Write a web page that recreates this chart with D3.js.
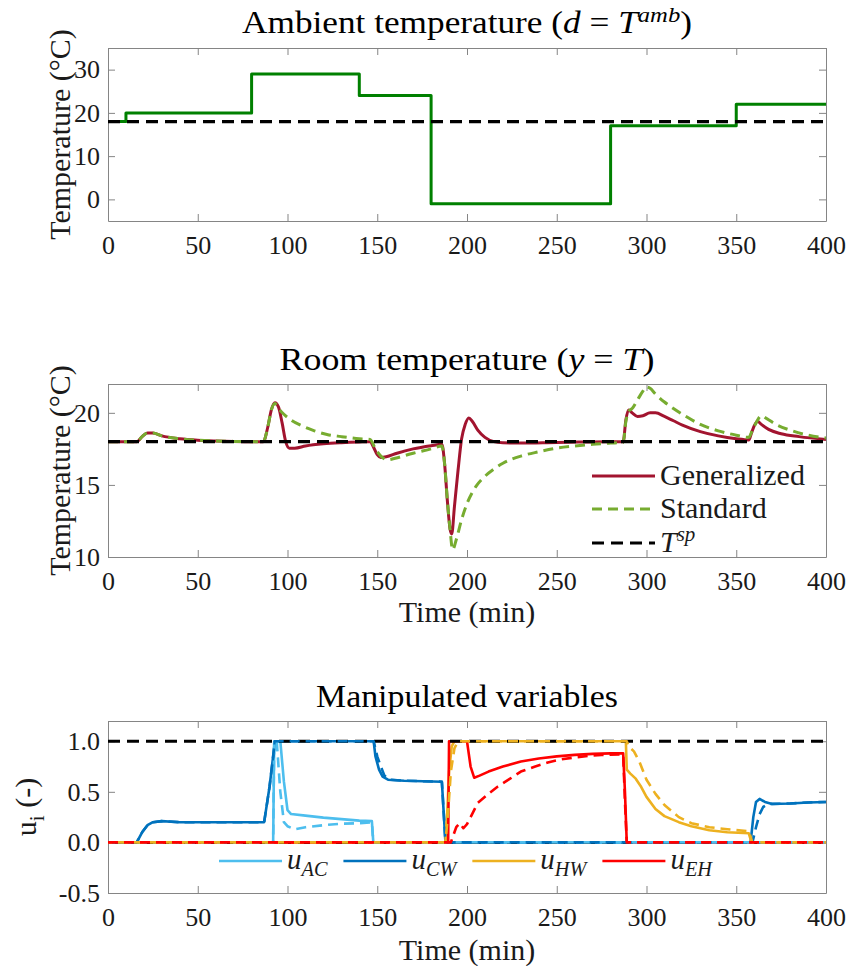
<!DOCTYPE html>
<html><head><meta charset="utf-8">
<script src="https://cdn.jsdelivr.net/npm/d3@7"></script>
<style>
body{margin:0;background:#fff}
svg{display:block}
</style>
</head><body>
<svg id="c" width="850" height="966" font-family="'Liberation Serif', Tinos, 'Times New Roman', 'DejaVu Serif', serif"></svg>
<script>
// ---------------- data ----------------
const timeTicks = [0,50,100,150,200,250,300,350,400];
const ambientTicks = [0,10,20,30];
const roomTicks = [10,15,20];
const uTicks = [-0.5,0,0.5,1];

const ambientSteps = [[0,18],[10,20],[80,29],[140,24],[180,-1],[280,17],[350,22],[400,22]];
const setpointTemp = 18;
const uLower = 0, uUpper = 1;

const roomGeneralized = [[0,18],[16,18],[19,18.35],[22,18.6],[25,18.6],[30,18.4],[40,18.2],[50,18.1],[60,18.05],[70,18.02],[86.5,18],[89,19],[91,20.2],[93,20.7],[95,20.4],[97,19.3],[99,18],[101,17.55],[104,17.55],[110,17.7],[120,17.85],[130,17.93],[140,17.98],[146,18],[148,17.6],[150,17.1],[152,16.9],[155,16.95],[161,17.2],[170,17.5],[180,17.72],[186,17.82],[187.5,16.5],[189,14],[190.5,12],[191.5,11.6],[193,13.5],[195,16],[197,18.2],[199,19.2],[201,19.65],[203,19.4],[206,18.8],[210,18.3],[215,18],[220,17.92],[230,17.9],[250,17.95],[270,17.98],[287,18],[288.5,19.5],[290,20.2],[292,20],[295,19.75],[298,19.8],[302,20],[305,20],[310,19.75],[315,19.45],[320,19.15],[330,18.7],[340,18.4],[350,18.2],[357,18.12],[358.5,18.6],[360,19.1],[362,19.4],[364,19.2],[368,18.85],[375,18.55],[385,18.35],[400,18.15]];
const roomStandard = [[0,18],[16,18],[19,18.35],[22,18.6],[25,18.6],[30,18.4],[40,18.2],[50,18.1],[60,18.05],[70,18.02],[86.5,18],[89,19],[91,20.2],[93,20.65],[95,20.3],[98,19.9],[102,19.5],[108,19.1],[115,18.75],[122,18.5],[130,18.35],[140,18.2],[146,18.15],[149,17.5],[152,17],[156,16.75],[160,16.85],[170,17.2],[180,17.5],[186,17.7],[187.5,16.5],[189,14],[190.5,12],[192,10.5],[194,11.2],[197,12.6],[200,13.7],[205,14.9],[210,15.6],[215,16.1],[220,16.5],[230,17],[240,17.3],[250,17.55],[260,17.7],[270,17.82],[280,17.9],[287,17.95],[288.5,19.4],[290,20.1],[292,20.3],[295,20.9],[298,21.5],[300,21.8],[302,21.7],[305,21.3],[310,20.75],[315,20.3],[320,19.9],[330,19.2],[340,18.75],[350,18.45],[357,18.3],[359,18.8],[361,19.3],[364,19.8],[367,19.6],[372,19.2],[380,18.8],[390,18.45],[400,18.25]];

const uACGen = [[0,0],[92,0],[92.6,1],[96,1],[98,0.6],[100,0.32],[102,0.28],[110,0.265],[120,0.245],[130,0.23],[140,0.215],[147,0.21],[147.8,0],[400,0]];
const uACStd = [[0,0],[92,0],[92.6,1],[94,1],[96,0.5],[98,0.2],[100,0.16],[104,0.13],[110,0.15],[120,0.17],[130,0.185],[140,0.19],[147,0.2],[147.8,0],[400,0]];
const uCWGen = [[0,0],[16,0],[19,0.1],[22,0.17],[25,0.2],[30,0.21],[40,0.2],[87,0.2],[90,0.55],[93,1],[148,1],[149,0.85],[151,0.72],[153,0.65],[156,0.62],[165,0.61],[186,0.6],[187,0.3],[188,0],[358,0],[359.5,0.25],[361,0.4],[363,0.43],[366,0.4],[370,0.38],[380,0.385],[390,0.395],[400,0.4]];
const uCWStd = [[0,0],[16,0],[19,0.1],[22,0.17],[25,0.2],[30,0.21],[40,0.2],[87,0.2],[90,0.55],[93,1],[148,1],[150,0.85],[152,0.75],[154,0.66],[157,0.62],[165,0.61],[186,0.6],[187,0.3],[188,0],[359,0],[361,0.15],[363,0.28],[365,0.35],[368,0.38],[380,0.385],[390,0.395],[400,0.4]];
const uHWGen = [[0,0],[188,0],[189,0.3],[190,0.7],[191.5,0.95],[193,1],[288.5,1],[289,0.72],[291,0.68],[294,0.63],[297,0.55],[300,0.45],[305,0.33],[310,0.26],[318,0.2],[325,0.16],[335,0.12],[345,0.1],[357,0.09],[358.5,0],[400,0]];
const uHWStd = [[0,0],[188,0],[189.5,0.3],[191,0.7],[193,0.93],[195,1],[289,1],[290,0.95],[293,0.9],[296,0.8],[300,0.62],[305,0.48],[310,0.37],[318,0.25],[325,0.19],[335,0.15],[345,0.13],[357,0.11],[359,0],[400,0]];
const uEHGen = [[0,0],[189.5,0],[190,1],[200,1],[202,0.75],[204,0.64],[207,0.66],[212,0.7],[220,0.75],[230,0.8],[240,0.83],[250,0.85],[260,0.865],[270,0.875],[280,0.88],[287,0.88],[288,0.5],[289,0],[400,0]];
const uEHStd = [[0,0],[191,0],[192,0.05],[194,0.15],[196,0.19],[198,0.14],[200,0.18],[206,0.39],[212,0.48],[217,0.55],[224,0.63],[230,0.7],[238,0.75],[245,0.79],[252,0.82],[260,0.84],[268,0.855],[275,0.865],[287,0.87],[288,0.4],[289,0],[400,0]];

const uNames = ["AC","CW","HW","EH"];
const uColors = ["#4DBEEE","#0072BD","#EDB120","#FF0000"];

// ---------------- layout ----------------
const FONT = "'Liberation Serif', Tinos, 'Times New Roman', 'DejaVu Serif', serif";
const svg = d3.select("#c");
const L = 108, R = 826, CX = (L+R)/2;
const x = d3.scaleLinear().domain([0,400]).range([L,R]);
const AX = "#858585", TXT = "#1a1a1a";
const NB = "\u00a0";

function rich(textSel, segs, size){
  let shift = 0;
  segs.forEach(s=>{
    const ts = textSel.append("tspan").text(s.t);
    if (s.i) ts.attr("font-style","italic");
    const target = s.sup ? -0.36*size : (s.sub ? 0.25*size : 0);
    if (target !== shift){ ts.attr("dy", target-shift); shift = target; }
    if (s.sup || s.sub) ts.attr("font-size", size*0.7);
  });
}

function title(segs, baseY, width){
  const g = svg.append("g");
  const t = g.append("text").attr("text-anchor","middle").attr("font-size",31)
    .attr("font-family",FONT).attr("fill","#000");
  rich(t, segs, 31);
  const w = t.node().getComputedTextLength();
  g.attr("transform", `translate(${CX},${baseY}) scale(${width/w},1)`);
}

function panel(top, bottom, domain, ticks, fmt, id){
  const y = d3.scaleLinear().domain(domain).range([bottom, top]);
  const g = svg.append("g");
  g.append("clipPath").attr("id",id).append("rect")
    .attr("x",L).attr("y",top).attr("width",R-L).attr("height",bottom-top);
  const styleAxis = a => {
    a.attr("font-family",FONT);
    a.selectAll("path.domain").attr("stroke",AX).attr("stroke-width",1);
    a.selectAll(".tick line").attr("stroke",AX).attr("stroke-width",1);
    a.selectAll(".tick text").attr("font-size",26).attr("fill",TXT).attr("font-family",FONT);
  };
  g.append("g").attr("transform",`translate(0,${bottom})`)
    .call(d3.axisBottom(x).tickValues(timeTicks).tickSize(-7).tickSizeOuter(0).tickPadding(14.5).tickFormat(d3.format("d")))
    .call(styleAxis);
  g.append("g").attr("transform",`translate(0,${top})`)
    .call(d3.axisTop(x).tickValues(timeTicks).tickSize(-7).tickSizeOuter(0).tickFormat(""))
    .call(styleAxis);
  g.append("g").attr("transform",`translate(${L},0)`)
    .call(d3.axisLeft(y).tickValues(ticks).tickSize(-7).tickSizeOuter(0).tickPadding(8).tickFormat(fmt))
    .call(styleAxis);
  g.append("g").attr("transform",`translate(${R},0)`)
    .call(d3.axisRight(y).tickValues(ticks).tickSize(-7).tickSizeOuter(0).tickFormat(""))
    .call(styleAxis);
  const plot = g.append("g").attr("clip-path",`url(#${id})`);
  return {g, y, plot, top, bottom};
}

function drawLine(p, data, color, width, dash, curve, offset){
  const line = d3.line().x(d=>x(d[0])).y(d=>p.y(d[1])).curve(curve || d3.curveMonotoneX);
  const path = p.plot.append("path").datum(data).attr("d",line)
    .attr("fill","none").attr("stroke",color).attr("stroke-width",width)
    .attr("stroke-linejoin","round");
  if (dash) path.attr("stroke-dasharray",dash).attr("stroke-dashoffset",offset||0);
  return path;
}

function ylabel(segs, xBase, cy, size){
  const t = svg.append("text").attr("transform",`translate(${xBase},${cy}) rotate(-90)`)
    .attr("text-anchor","middle").attr("font-size",size).attr("font-family",FONT).attr("fill",TXT);
  rich(t, segs, size);
}

function xlabel(txt, baseY){
  svg.append("text").attr("x",CX).attr("y",baseY).attr("text-anchor","middle")
    .attr("font-size",30).attr("font-family",FONT).attr("fill",TXT).text(txt);
}

const BLACKDASH = "12,7", DASH = "10,6";
const flat = v => [[0,v],[400,v]];

// ---------------- panel 1: ambient ----------------
title([{t:"Ambient temperature ("},{t:"d",i:true},{t:NB+"="+NB},{t:"T",i:true},{t:"amb",i:true,sup:true},{t:")"}], 33, 450);
const p1 = panel(48, 221, [-5,35], ambientTicks, d3.format("d"), "clip1");
drawLine(p1, ambientSteps, "#008000", 3, null, d3.curveStepAfter);
drawLine(p1, flat(setpointTemp), "#000", 3.2, BLACKDASH, d3.curveLinear);
ylabel([{t:"Temperature (°C)"}], 70, (48+221)/2, 30);

// ---------------- panel 2: room ----------------
title([{t:"Room temperature ("},{t:"y",i:true},{t:NB+"="+NB},{t:"T",i:true},{t:")"}], 370, 375);
const p2 = panel(384, 557, [10,22], roomTicks, d3.format("d"), "clip2");
drawLine(p2, roomGeneralized, "#A2142F", 3, null);
drawLine(p2, roomStandard, "#77AC30", 3, DASH);
drawLine(p2, flat(setpointTemp), "#000", 3.2, BLACKDASH, d3.curveLinear);
ylabel([{t:"Temperature (°C)"}], 70, (384+557)/2, 30);
xlabel("Time (min)", 622);

// legend panel 2
const leg2 = [
  {segs:[{t:"Generalized"}], color:"#A2142F", dash:null},
  {segs:[{t:"Standard"}], color:"#77AC30", dash:DASH},
  {segs:[{t:"T",i:true},{t:"sp",i:true,sup:true}], color:"#000", dash:BLACKDASH}
];
const leg2Y = [476, 509, 543];
leg2.forEach((e,i)=>{
  const yy = leg2Y[i];
  const ln = svg.append("line").attr("x1",592).attr("x2",655).attr("y1",yy).attr("y2",yy)
    .attr("stroke",e.color).attr("stroke-width",3);
  if (e.dash) ln.attr("stroke-dasharray",e.dash);
  const t = svg.append("text").attr("x",660).attr("y",yy+9).attr("font-size",30)
    .attr("font-family",FONT).attr("fill",TXT);
  rich(t, e.segs, 30);
});

// ---------------- panel 3: manipulated ----------------
title([{t:"Manipulated variables"}], 707, 302);
const p3 = panel(721, 893, [-0.5,1.2], uTicks, d => d.toFixed(1), "clip3");
const gens = [uACGen,uCWGen,uHWGen,uEHGen];
const stds = [uACStd,uCWStd,uHWStd,uEHStd];
gens.forEach((d,i)=>drawLine(p3, d, uColors[i], 2.6, null, d3.curveLinear));
drawLine(p3, flat(uLower), "#000", 3, BLACKDASH, d3.curveLinear);
drawLine(p3, flat(uUpper), "#000", 3, BLACKDASH, d3.curveLinear);
const offs = [3, 9, 6, 0];
stds.forEach((d,i)=>drawLine(p3, d, uColors[i], 2.6, DASH, d3.curveLinear, offs[i]));
ylabel([{t:"u"},{t:"i",sub:true},{t:NB+"(-)"}], 36, (721+893)/2, 30);
xlabel("Time (min)", 960);

// legend panel 3 (horizontal)
let lx = 219;
const ly = 861;
uNames.forEach((n,i)=>{
  svg.append("line").attr("x1",lx).attr("x2",lx+63).attr("y1",ly).attr("y2",ly)
    .attr("stroke",uColors[i]).attr("stroke-width",2.6);
  const t = svg.append("text").attr("x",lx+68).attr("y",ly+8).attr("font-size",29)
    .attr("font-family",FONT).attr("fill",TXT);
  rich(t, [{t:"u",i:true},{t:n,i:true,sub:true}], 29);
  lx = lx + 68 + t.node().getComputedTextLength() + 16;
});
</script>
</body></html>
